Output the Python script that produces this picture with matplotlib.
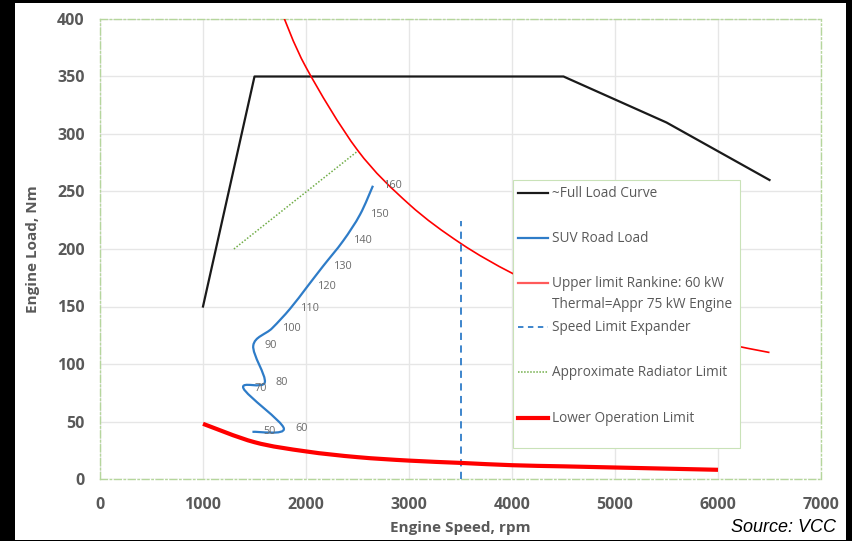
import numpy as np
import matplotlib
matplotlib.use("Agg")
import matplotlib.pyplot as plt
from matplotlib.path import Path
from matplotlib.patches import PathPatch, Rectangle
from matplotlib.lines import Line2D

plt.rcParams['font.family'] = ['Open Sans', 'DejaVu Sans']

# ---------------- data ----------------
full_load_rpm = [1000, 1500, 4500, 5500, 6500]
full_load_nm = [150, 350, 350, 310, 260]

suv_speed_kmh = [50, 60, 70, 80, 90, 100, 110, 120, 130, 140, 150, 160]
suv_rpm = [1480, 1785, 1392, 1600, 1488, 1670, 1845, 2010, 2165, 2360, 2525, 2650]
suv_nm = [41, 44, 79, 84, 116, 131, 148, 167, 185, 207, 230, 255]

rankine_rpm = [1750, 2000, 2500, 3000, 3500, 4000, 4500, 5000, 5500, 6000, 6500]
rankine_nm = [409, 358, 286, 239, 205, 179, 159, 143, 130, 119, 110]

expander_rpm = [3500, 3500]
expander_nm = [0, 224]

radiator_rpm = [1300, 2500]
radiator_nm = [200, 285]

lower_rpm = [1000, 1500, 2000, 2500, 3000, 3500, 4000, 4500, 5000, 5500, 6000]
lower_nm = [48, 32, 24, 19, 16, 14, 12, 11, 10, 9, 8]

x_ticks = [0, 1000, 2000, 3000, 4000, 5000, 6000, 7000]
y_ticks = [0, 50, 100, 150, 200, 250, 300, 350, 400]

legend_labels = ["~Full Load Curve", "SUV Road Load",
                 "Upper limit Rankine: 60 kW\nThermal=Appr 75 kW Engine",
                 "Speed Limit Expander", "Approximate Radiator Limit",
                 "Lower Operation Limit"]


def smooth_path(xs, ys):
    """Excel-like smoothed line: cubic Bezier segments through the data points."""
    p = np.column_stack([xs, ys]).astype(float)
    n = len(p)
    verts = [p[0]]
    codes = [Path.MOVETO]
    for i in range(n - 1):
        p0 = p[i - 1] if i > 0 else p[i]
        p1 = p[i]
        p2 = p[i + 1]
        p3 = p[i + 2] if i + 2 < n else p[i + 1]
        c1 = p1 + (p2 - p0) / 6.0
        c2 = p2 - (p3 - p1) / 6.0
        verts += [c1, c2, p2]
        codes += [Path.CURVE4] * 3
    return Path(verts, codes)


grey = '#595959'
blue = '#2e7cc8'
red = '#ff0000'

fig = plt.figure(figsize=(8.52, 5.41), dpi=100, facecolor='black')
fig.patches.append(Rectangle((15 / 852, 1 / 541), (846 - 15) / 852, (538 - 1) / 541,
                             transform=fig.transFigure, facecolor='white',
                             edgecolor='none', zorder=-10))

ax = fig.add_axes([100 / 852, (541 - 479) / 541, 721 / 852, 460 / 541])
ax.set_zorder(1)
ax.set_xlim(0, 7000)
ax.set_ylim(0, 400)
ax.set_xticks(x_ticks)
ax.set_yticks(y_ticks)
ax.grid(True, color='#e6e6e6', linewidth=1.0)
ax.set_axisbelow(True)
for s in ax.spines.values():
    s.set_color('#b5d69c')
    s.set_linestyle((0, (5, 2, 1, 2)))
    s.set_linewidth(1.0)
ax.tick_params(axis='x', length=0, pad=13, labelcolor=grey, labelsize=11.5)
ax.tick_params(axis='y', length=0, pad=11, labelcolor=grey, labelsize=11.5)
for lab in ax.get_xticklabels() + ax.get_yticklabels():
    lab.set_fontweight('bold')

# lines
ax.plot(full_load_rpm, full_load_nm, color='#1a1a1a', lw=1.6, zorder=3)
ax.add_patch(PathPatch(smooth_path(suv_rpm, suv_nm), facecolor='none',
                       edgecolor=blue, lw=1.6, zorder=3))
ax.add_patch(PathPatch(smooth_path(rankine_rpm, rankine_nm), facecolor='none',
                       edgecolor=red, lw=1.2, zorder=3))
ax.plot(expander_rpm, expander_nm, color=blue, lw=1.3, ls=(0, (4, 3)), zorder=3)
ax.plot(radiator_rpm, radiator_nm, color='#70ad47', lw=1.1, ls=(0, (1, 1.2)), zorder=3)
ax.add_patch(PathPatch(smooth_path(lower_rpm, lower_nm), facecolor='none',
                       edgecolor=red, lw=3.0, zorder=3, capstyle='butt'))

for v, x, y in zip(suv_speed_kmh, suv_rpm, suv_nm):
    ax.annotate(str(v), (x, y), xytext=(8, 0), textcoords='offset points',
                fontsize=7.8, color='#6a6a6a', va='center', ha='left', zorder=4)

# ---- legend (Excel-style layout, positioned in axes fraction) ----
def fx(px):
    return (px - 100) / 721.0


def fy(py):
    return (479 - py) / 460.0


leg_styles = [
    dict(color='#1a1a1a', lw=1.6),
    dict(color=blue, lw=1.6),
    dict(color='#ff5a5a', lw=1.6),
    dict(color=blue, lw=1.3, ls=(0, (3, 2.5))),
    dict(color='#70ad47', lw=1.1, ls=(0, (1, 1))),
    dict(color=red, lw=3.0),
]
leg_rows = [193, 238, 283, 327, 372, 418]
ax.add_patch(Rectangle((fx(513), fy(448)), fx(740) - fx(513), fy(180) - fy(448),
                       transform=ax.transAxes, facecolor='white',
                       edgecolor='#c9e2b8', lw=0.8, zorder=10))
for lab, st, row in zip(legend_labels, leg_styles, leg_rows):
    ax.add_line(Line2D([fx(518), fx(548)], [fy(row), fy(row)],
                       transform=ax.transAxes, zorder=11, **st))
    ax.text(fx(552), fy(row - 7), lab, transform=ax.transAxes, fontsize=9.8,
            color=grey, ha='left', va='top', linespacing=1.5, zorder=11)

ax.set_xlabel('Engine Speed, rpm', fontsize=11, fontweight='bold', color=grey, labelpad=6)
ax.set_ylabel('Engine Load, Nm', fontsize=11, fontweight='bold', color=grey, labelpad=12)

fig.text(836 / 852, (541 - 527) / 541, 'Source: VCC', family='Liberation Sans',
         style='italic', fontsize=13, ha='right', va='center', color='black')

fig.savefig('out.png', dpi=100, facecolor=fig.get_facecolor())
